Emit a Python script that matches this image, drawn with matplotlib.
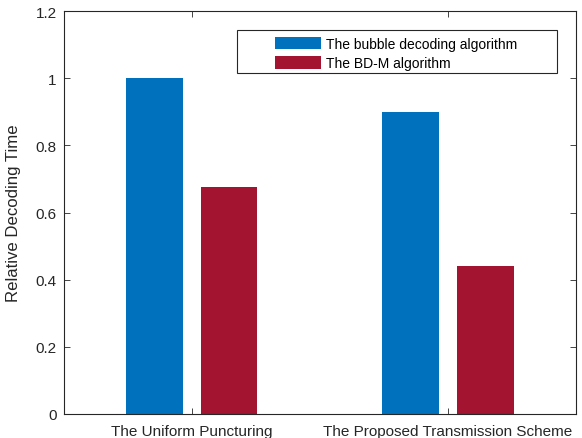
import matplotlib
matplotlib.use("Agg")
import matplotlib.pyplot as plt
from matplotlib.patches import Rectangle
import numpy as np

plt.rcParams['font.family'] = ['Liberation Sans', 'DejaVu Sans']

categories = ["The Uniform Puncturing", "The Proposed Transmission Scheme"]
series_names = ["The bubble decoding algorithm", "The BD-M algorithm"]
bubble = [1.0, 0.90]
bdm = [0.675, 0.44]
yticks = [0, 0.2, 0.4, 0.6, 0.8, 1.0, 1.2]
ytick_labels = ["0", "0.2", "0.4", "0.6", "0.8", "1", "1.2"]

W, H = 582, 439
fig = plt.figure(figsize=(W/100, H/100), dpi=100)
L, R, T, B = 63.5, 576, 12, 415
ax = fig.add_axes([L/W, 1-B/H, (R-L)/W, (B-T)/H])

x = np.arange(1, len(categories) + 1)
w = 0.222
off = 0.146
ax.bar(x - off, bubble, w, color='#0072BD', label=series_names[0])
ax.bar(x + off, bdm, w, color='#A2142F', label=series_names[1])

ax.set_xlim(0.5, 2.5)
ax.set_ylim(0, 1.2)
ax.set_xticks(x)
ax.set_xticklabels(categories)
ax.set_yticks(yticks)
ax.set_yticklabels(ytick_labels)
ax.set_ylabel("Relative Decoding Time", fontsize=12.1, color='#262626')
ax.yaxis.set_label_coords((21 - L)/(R - L), 0.5)

axc = '#262626'
for s in ax.spines.values():
    s.set_color(axc)
    s.set_linewidth(0.8)
ax.tick_params(direction='in', top=True, right=True, length=4, width=0.6,
               colors=axc, labelsize=11, labelcolor='#262626')
ax.tick_params(axis='x', pad=7)
ax.tick_params(axis='y', pad=5)

def ax_x(px):
    return (px - L)/(R - L)

def ax_y(py):
    return (B - py)/(B - T)

leg = ax.legend(loc='upper left', bbox_to_anchor=(ax_x(275), ax_y(37.5)),
                frameon=False, fontsize=10, handlelength=3.3,
                handleheight=1.0, borderpad=0, labelspacing=0.4,
                handletextpad=0.36, borderaxespad=0)
ax.add_patch(Rectangle((ax_x(237), ax_y(74)), ax_x(557) - ax_x(237),
                       ax_y(31) - ax_y(74), transform=ax.transAxes,
                       facecolor='white', edgecolor='#262626', linewidth=0.8,
                       zorder=4, clip_on=False))
leg.set_zorder(5)

fig.savefig("out.png", dpi=100)
